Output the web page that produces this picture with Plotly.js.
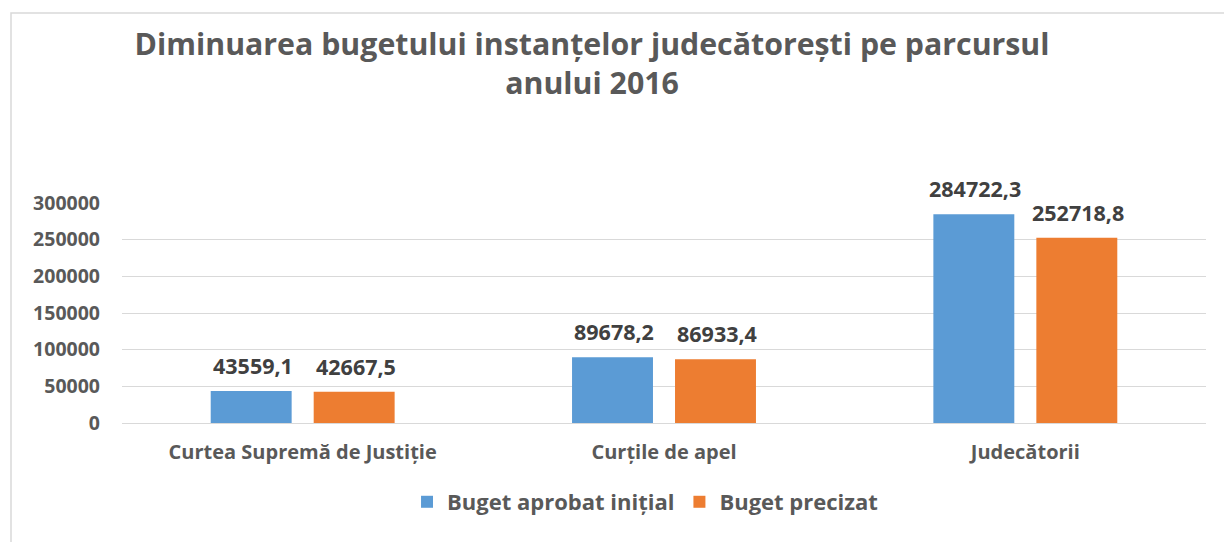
<!DOCTYPE html>
<html>
<head>
<meta charset="utf-8">
<script src="https://cdn.plot.ly/plotly-3.0.1.min.js"></script>
<style>
html,body{margin:0;padding:0;background:#fff;}
#chart{width:1224px;height:542px;}
</style>
</head>
<body>
<div id="chart"></div>
<script>
const categories = ["Curtea Supremă de Justiție", "Curțile de apel", "Judecătorii"];
const seriesNames = ["Buget aprobat inițial", "Buget precizat"];
const initialBudget = [43559.1, 89678.2, 284722.3];
const revisedBudget = [42667.5, 86933.4, 252718.8];
const yTicks = [0, 50000, 100000, 150000, 200000, 250000, 300000];

const FONT = "'Open Sans', sans-serif";
const fmt = v => v.toFixed(1).replace('.', ',');

const traces = [
  {type: 'bar', name: seriesNames[0], x: categories, y: initialBudget,
   marker: {color: '#5B9BD5'}, hoverinfo: 'none'},
  {type: 'bar', name: seriesNames[1], x: categories, y: revisedBudget,
   marker: {color: '#ED7D31'}, hoverinfo: 'none'}
];

const annotations = [];
[initialBudget, revisedBudget].forEach((arr, s) => {
  arr.forEach((v, i) => {
    annotations.push({
      x: categories[i], y: v, xref: 'x', yref: 'y',
      text: '<b>' + fmt(v) + '</b>', showarrow: false,
      xanchor: 'center', yanchor: 'bottom',
      xshift: s === 0 ? -50 : 53, yshift: 9,
      font: {family: FONT, size: 21.5, color: '#404040'}
    });
  });
});

const layout = {
  width: 1224, height: 542,
  paper_bgcolor: '#ffffff', plot_bgcolor: '#ffffff',
  margin: {l: 122, r: 18, t: 203, b: 119},
  title: {
    text: '<b>Diminuarea bugetului instanțelor judecătorești pe parcursul<br>anului 2016</b>',
    x: 0.4837, xanchor: 'center', xref: 'container',
    y: 1 - 55/542, yanchor: 'top', yref: 'container',
    font: {family: FONT, size: 30.3, color: '#595959'}
  },
  barmode: 'group', bargap: 0.43, bargroupgap: 0.214,
  xaxis: {
    type: 'category', showgrid: false, showline: false, zeroline: false,
    ticks: '', ticklabelstandoff: 15,
    tickfont: {family: FONT, size: 20, color: '#595959', weight: 'bold'},
    fixedrange: true
  },
  yaxis: {
    range: [0, 300000], tickvals: yTicks, tickformat: 'd',
    showgrid: true, gridcolor: '#d9d9d9', gridwidth: 1,
    zeroline: true, zerolinecolor: '#d9d9d9', zerolinewidth: 1,
    showline: false, ticks: '', ticklabelstandoff: 21,
    tickfont: {family: FONT, size: 19.5, color: '#595959', weight: 'bold'},
    fixedrange: true
  },
  showlegend: true,
  legend: {
    orientation: 'h', x: 0.4825, xanchor: 'center', y: -0.359, yanchor: 'middle',
    font: {family: FONT, size: 22, color: '#595959', weight: 'bold'},
    itemwidth: 30, tracegroupgap: 0
  },
  annotations: annotations,
  shapes: [{
    type: 'rect', xref: 'paper', yref: 'paper',
    x0: (11 - 122) / 1084, x1: (1240 - 122) / 1084,
    y0: (423 - 560) / 220, y1: 1 + (203 - 13) / 220,
    line: {color: '#d9d9d9', width: 1.5}, fillcolor: 'rgba(0,0,0,0)', layer: 'below'
  }]
};

Plotly.newPlot('chart', traces, layout, {staticPlot: true, displayModeBar: false});
</script>
</body>
</html>
